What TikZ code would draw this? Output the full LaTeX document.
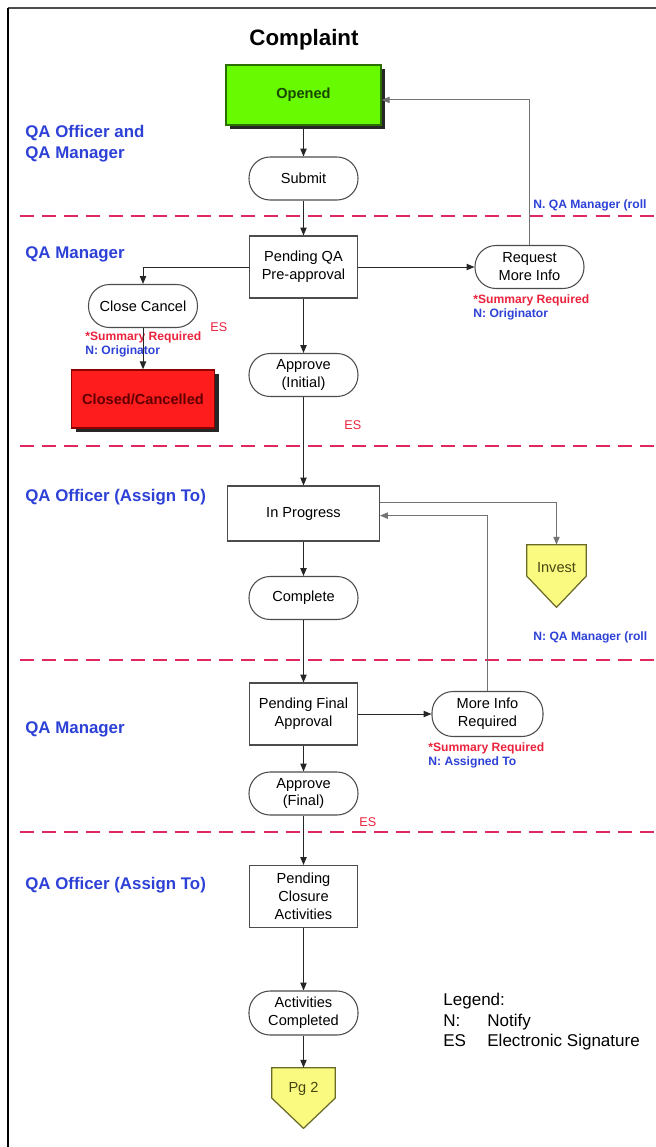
\documentclass[tikz,border=0pt]{standalone}
\usepackage{fontspec}
\setmainfont{Liberation Sans}
\usetikzlibrary{arrows.meta,shadows}

\definecolor{lanecol}{RGB}{45,65,215}
\definecolor{notecol}{RGB}{235,35,60}
\definecolor{sepcol}{RGB}{222,40,95}
\definecolor{openfill}{RGB}{104,250,0}
\definecolor{opendraw}{RGB}{45,110,0}
\definecolor{opentext}{RGB}{25,70,0}
\definecolor{closefill}{RGB}{255,28,28}
\definecolor{closedraw}{RGB}{140,0,0}
\definecolor{closetext}{RGB}{95,0,0}
\definecolor{pagefill}{RGB}{250,250,128}
\definecolor{pagedraw}{RGB}{105,105,40}
\definecolor{pagetext}{RGB}{70,70,20}

\tikzset{
  boxfont/.style={font=\fontsize{8.3}{10.2}\selectfont},
  stepbox/.style={boxfont, draw=black!70, fill=white, line width=0.6pt,
    minimum width=2.16cm, minimum height=1.24cm, align=center, inner sep=1pt},
  action/.style={boxfont, draw=black!70, fill=white, line width=0.6pt,
    rounded corners=0.42cm, minimum width=2.18cm, minimum height=0.86cm,
    align=center, inner sep=1pt},
  statebox/.style={font=\bfseries\fontsize{8.3}{10}\selectfont, line width=0.8pt,
    drop shadow={shadow xshift=2.3pt, shadow yshift=-2.3pt, fill=black, opacity=0.85}},
  pagemark/.style={boxfont, inner sep=0pt, text=pagetext},
  pageshape/.style={fill=pagefill, draw=pagedraw, line width=0.7pt, line join=miter},
  lanelabel/.style={text=lanecol, anchor=west, align=left,
    font=\bfseries\fontsize{9.6}{12}\selectfont, inner sep=0pt},
  redline/.style={text=notecol, anchor=base west, inner sep=0pt,
    font=\bfseries\fontsize{6.9}{8}\selectfont},
  blueline/.style={text=lanecol, anchor=base west, inner sep=0pt,
    font=\bfseries\fontsize{6.9}{8}\selectfont},
  esmark/.style={text=notecol, anchor=base west, inner sep=0pt,
    font=\fontsize{7.2}{8}\selectfont},
  legendtext/.style={anchor=base west, inner sep=0pt, font=\fontsize{9.7}{11}\selectfont},
  flow/.style={draw=black!85, line width=0.55pt,
    -{Triangle[length=4.5pt,width=3.6pt]}},
  backflow/.style={flow, draw=black!55},
  lanesep/.style={draw=sepcol, line width=1.1pt, dash pattern=on 8pt off 4.6pt},
}

\begin{document}
\begin{tikzpicture}[x=0.02cm, y=-0.02cm]
  \useasboundingbox (0,0) rectangle (656,1147);
  \clip (0,0) rectangle (656,1147);
  \fill[white] (0,0) rectangle (656,1147);

  % page frame (left and top edges)
  \draw[black!70, line width=1.1pt] (8,8) -- (660,8);
  \draw[black, line width=1.1pt] (8,1150) -- (8,8);

  % lane separators
  \foreach \yy in {216,446,660,832}
    \draw[lanesep] (20,\yy) -- (660,\yy);

  % title
  \node[font=\bfseries\fontsize{12.7}{14}\selectfont] (title) at (304,40) {Complaint};

  % lane labels
  \node[lanelabel] (laneA) at (25,143.5) {QA Officer and\\QA Manager};
  \node[lanelabel] (laneB) at (25,254) {QA Manager};
  \node[lanelabel] (laneC) at (25,497) {QA Officer (Assign To)};
  \node[lanelabel] (laneD) at (25,729) {QA Manager};
  \node[lanelabel] (laneE) at (25,885) {QA Officer (Assign To)};

  % states and actions
  \node[statebox, fill=openfill, draw=opendraw, text=opentext,
        minimum width=3.1cm, minimum height=1.2cm] (opened) at (303.5,95) {Opened};
  \node[action] (submit) at (303.5,178.5) {Submit};
  \node[stepbox] (preapp) at (303.5,267) {Pending QA\\Pre-approval};
  \node[action] (reqinfo) at (529.5,267) {Request\\More Info};
  \node[action] (closecancel) at (143,306) {Close Cancel};
  \node[statebox, fill=closefill, draw=closedraw, text=closetext,
        minimum width=2.86cm, minimum height=1.16cm] (closed) at (143,399) {Closed/Cancelled};
  \node[action] (approveinit) at (303.5,375) {Approve\\(Initial)};
  \node[stepbox, minimum width=3.04cm, minimum height=1.1cm] (inprog) at (303.5,513.5) {In Progress};
  \node[action] (complete) at (303.5,598) {Complete};
  \node[stepbox] (pendfinal) at (303.5,714) {Pending Final\\Approval};
  \node[action, minimum width=2.22cm, minimum height=0.9cm] (moreinfo) at (487.5,714) {More Info\\Required};
  \node[action] (approvefinal) at (303.5,793.5) {Approve\\(Final)};
  \node[stepbox] (pendclosure) at (303.5,896.5) {Pending\\Closure\\Activities};
  \node[action, minimum height=0.88cm] (actdone) at (303.5,1013) {Activities\\Completed};

  % off-page connectors (pentagons pointing down)
  \node[pagemark, minimum width=1.18cm, minimum height=1.24cm] (invest) at (556.5,576) {};
  \draw[pageshape] (invest.north west) -- (invest.north east) -- (invest.east)
        -- (invest.south) -- (invest.west) -- cycle;
  \node[pagemark] (investtext) at (556.5,568) {Invest};

  \node[pagemark, minimum width=1.26cm, minimum height=1.2cm] (pgtwo) at (303.5,1098) {};
  \draw[pageshape] (pgtwo.north west) -- (pgtwo.north east) -- (pgtwo.east)
        -- (pgtwo.south) -- (pgtwo.west) -- cycle;
  \node[pagemark] (pgtwotext) at (303.5,1089) {Pg 2};

  % notes
  \node[redline] (noteA1) at (473,303.5) {*Summary Required};
  \node[blueline] (noteA2) at (473,317.5) {N: Originator};
  \node[redline] (noteB1) at (85,340.5) {*Summary Required};
  \node[blueline] (noteB2) at (85,354.5) {N: Originator};
  \node[redline] (noteC1) at (428,751.5) {*Summary Required};
  \node[blueline] (noteC2) at (428,765.5) {N: Assigned To};
  \node[blueline] (rollA) at (533,208.5) {N. QA Manager (roll};
  \node[blueline] (rollB) at (533,640.5) {N: QA Manager (roll};
  \node[esmark] (esA) at (210,331) {ES};
  \node[esmark] (esB) at (344,429) {ES};
  \node[esmark] (esC) at (359,826) {ES};

  % legend
  \node[legendtext] (legend) at (443,1005) {Legend:};
  \node[legendtext] (legN) at (443,1026) {N:};
  \node[legendtext] (legNtxt) at (487,1026) {Notify};
  \node[legendtext] (legES) at (443,1046.5) {ES};
  \node[legendtext] (legEStxt) at (487,1046.5) {Electronic Signature};

  % flow
  \draw[flow] (opened) -- (submit);
  \draw[flow] (submit) -- (preapp);
  \draw[flow] (preapp) -- (reqinfo);
  \draw[backflow] (reqinfo.north) |- ([yshift=-2.8pt]opened.east);
  \draw[flow] (preapp.west) -| (closecancel.north);
  \draw[flow] (closecancel) -- (closed);
  \draw[flow] (preapp) -- (approveinit);
  \draw[flow] (approveinit) -- (inprog);
  \draw[backflow] ([yshift=6.5pt]inprog.east) -| (invest.north);
  \draw[backflow] (moreinfo.north) |- ([yshift=-1.2pt]inprog.east);
  \draw[flow] (inprog) -- (complete);
  \draw[flow] (complete) -- (pendfinal);
  \draw[flow] (pendfinal) -- (moreinfo);
  \draw[flow] (pendfinal) -- (approvefinal);
  \draw[flow] (approvefinal) -- (pendclosure);
  \draw[flow] (pendclosure) -- (actdone);
  \draw[flow] (actdone) -- (pgtwo.north);
\end{tikzpicture}
\end{document}
